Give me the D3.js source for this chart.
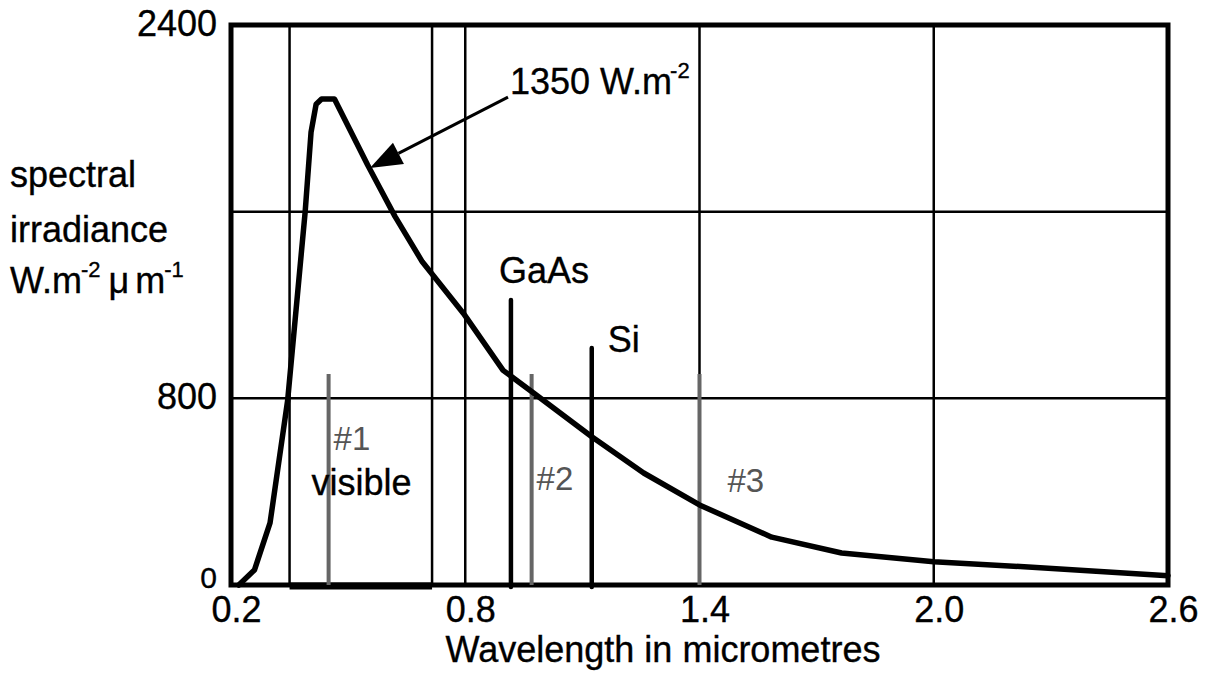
<!DOCTYPE html>
<html>
<head>
<meta charset="utf-8">
<script src="https://cdn.jsdelivr.net/npm/d3@7"></script>
<style>
  html, body { margin: 0; padding: 0; background: #fff; }
  svg { display: block; font-family: "Liberation Sans", Arial, sans-serif; }
  text { stroke: #000; stroke-width: 0.35px; }
</style>
</head>
<body>
<div id="chart"></div>
<script>
// data
const wavelength = [0.22, 0.26, 0.30, 0.345, 0.39, 0.405, 0.418, 0.432, 0.465, 0.55, 0.62, 0.69, 0.795, 0.897, 0.975, 1.125, 1.257, 1.40, 1.585, 1.764, 2.0, 2.242, 2.6];
const irradiance = [0, 64, 266, 790, 1600, 1940, 2060, 2083, 2083, 1800, 1580, 1385, 1165, 920, 823, 634, 480, 343, 205, 137, 100, 77, 40];

const xTicks = [0.2, 0.8, 1.4, 2.0, 2.6];
const yTicks = [0, 800, 2400];
const xGrid = [0.35, 0.715, 0.8, 1.4, 2.0];
const yGrid = [800, 1600];

// grey band markers and band-gap lines
const bandNames = ["#1", "#2", "#3"];
const bandPos = [0.45, 0.97, 1.4];
const bandTop = [904, 904, 904];
const gapNames = ["GaAs", "Si"];
const gapPos = [0.917, 1.124];
const gapTop = [1221, 1016];

// visible range marked on the base line
const visibleRange = [0.35, 0.715];

// arrow annotation: tail and tip in data units
const arrowTail = [0.9095, 2091];
const arrowTip = [0.556, 1787];

const svgWidth = 1210;
const svgHeight = 682;
const margin = { top: 25, right: 42, bottom: 97, left: 231 };
const width = svgWidth - margin.left - margin.right;
const height = svgHeight - margin.top - margin.bottom;

const svg = d3.select("#chart")
  .append("svg")
  .attr("width", svgWidth)
  .attr("height", svgHeight);

const g = svg.append("g")
  .attr("transform", `translate(${margin.left}, ${margin.top})`);

const x = d3.scaleLinear().domain([0.2, 2.6]).range([0, width]);
const y = d3.scaleLinear().domain([0, 2400]).range([height, 0]);

// grid
g.selectAll(".vgrid")
  .data(xGrid)
  .join("line")
  .attr("x1", d => x(d))
  .attr("x2", d => x(d))
  .attr("y1", 0)
  .attr("y2", height)
  .attr("stroke", "#000")
  .attr("stroke-width", 2.5);

g.selectAll(".hgrid")
  .data(yGrid)
  .join("line")
  .attr("x1", 0)
  .attr("x2", width)
  .attr("y1", d => y(d))
  .attr("y2", d => y(d))
  .attr("stroke", "#000")
  .attr("stroke-width", 2.5);

// frame
g.append("rect")
  .attr("width", width)
  .attr("height", height)
  .attr("fill", "none")
  .attr("stroke", "#000")
  .attr("stroke-width", 5);

g.append("line")
  .attr("x1", x(visibleRange[0]))
  .attr("x2", x(visibleRange[1]))
  .attr("y1", height + 1)
  .attr("y2", height + 1)
  .attr("stroke", "#000")
  .attr("stroke-width", 7);

// grey band lines
g.selectAll(".band")
  .data(bandPos)
  .join("line")
  .attr("x1", d => x(d))
  .attr("x2", d => x(d))
  .attr("y1", (d, i) => y(bandTop[i]))
  .attr("y2", height)
  .attr("stroke", "#666")
  .attr("stroke-width", 4);

// band gap lines
g.selectAll(".gap")
  .data(gapPos)
  .join("line")
  .attr("x1", d => x(d))
  .attr("x2", d => x(d))
  .attr("y1", (d, i) => y(gapTop[i]))
  .attr("y2", height + 2)
  .attr("stroke", "#000")
  .attr("stroke-width", 4.5)
  .attr("stroke-linecap", "round");

// spectrum
const line = d3.line()
  .x(d => x(d[0]))
  .y(d => y(d[1]));

g.append("path")
  .datum(d3.zip(wavelength, irradiance))
  .attr("fill", "none")
  .attr("stroke", "#000")
  .attr("stroke-width", 5.5)
  .attr("stroke-linejoin", "round")
  .attr("stroke-linecap", "round")
  .attr("d", line);

// axes (labels only)
const xAxis = g.append("g")
  .attr("transform", `translate(0, ${height})`)
  .call(d3.axisBottom(x).tickValues(xTicks).tickSize(0).tickPadding(11).tickFormat(d3.format(".1f")));
xAxis.select(".domain").remove();
xAxis.selectAll("text")
  .attr("dx", 5)
  .attr("dy", "0.71em")
  .style("font-size", "36px")
  .style("font-family", "Liberation Sans, Arial, sans-serif")
  .attr("fill", "#000");

const yAxis = g.append("g")
  .call(d3.axisLeft(y).tickValues(yTicks).tickSize(0).tickPadding(14).tickFormat(d3.format("d")));
yAxis.select(".domain").remove();
yAxis.selectAll("text")
  .style("font-size", d => d === 0 ? "30px" : "36px")
  .style("font-family", "Liberation Sans, Arial, sans-serif")
  .attr("dy", d => d === 2400 ? "0.3em" : d === 0 ? "0.08em" : "0.28em")
  .attr("fill", "#000");

// x axis title
svg.append("text")
  .attr("x", 663)
  .attr("y", 662)
  .attr("text-anchor", "middle")
  .style("font-size", "36px")
  .text("Wavelength in micrometres");

// y axis title
const yTitle = svg.append("g").style("font-size", "36px");
yTitle.append("text").attr("x", 10).attr("y", 187).text("spectral");
yTitle.append("text").attr("x", 10).attr("y", 242).text("irradiance");
const unit = yTitle.append("text").attr("x", 10).attr("y", 293);
unit.append("tspan").text("W.m");
unit.append("tspan").attr("dy", -16).attr("dx", -1).style("font-size", "22px").text("-2");
unit.append("tspan").attr("dy", 16).attr("dx", 8).text("\u03bc");
unit.append("tspan").attr("dx", 6).text("m");
unit.append("tspan").attr("dy", -16).attr("dx", -1).style("font-size", "22px").text("-1");

// band labels
const bandLabelDx = [5, 5, 28];
const bandLabelY = [450, 490, 492];
g.selectAll(".bandLabel")
  .data(bandNames)
  .join("text")
  .attr("x", (d, i) => x(bandPos[i]) + bandLabelDx[i])
  .attr("y", (d, i) => bandLabelY[i] - margin.top)
  .attr("fill", "#555")
  .style("stroke", "none")
  .style("font-size", "33px")
  .text(d => d);

g.append("text")
  .attr("x", x(bandPos[0]) - 17)
  .attr("y", 495 - margin.top)
  .style("font-size", "36px")
  .text("visible");

// gap labels
const gapLabelDx = [-12, 16];
const gapLabelDy = [-17, 4];
g.selectAll(".gapLabel")
  .data(gapNames)
  .join("text")
  .attr("x", (d, i) => x(gapPos[i]) + gapLabelDx[i])
  .attr("y", (d, i) => y(gapTop[i]) + gapLabelDy[i])
  .style("font-size", "36px")
  .text(d => d);

// arrow annotation
const tx = x(arrowTail[0]), ty = y(arrowTail[1]);
const px = x(arrowTip[0]), py = y(arrowTip[1]);
const ang = Math.atan2(py - ty, px - tx);
const headLen = 32, headHalf = 12;
const bx = px - headLen * Math.cos(ang), by = py - headLen * Math.sin(ang);
const nx = -Math.sin(ang), ny = Math.cos(ang);

g.append("line")
  .attr("x1", tx)
  .attr("y1", ty)
  .attr("x2", bx)
  .attr("y2", by)
  .attr("stroke", "#000")
  .attr("stroke-width", 3);

g.append("path")
  .attr("d", `M${px},${py}L${bx + nx * headHalf},${by + ny * headHalf}L${bx - nx * headHalf},${by - ny * headHalf}Z`)
  .attr("fill", "#000");

const note = g.append("text")
  .attr("x", tx + 2)
  .attr("y", ty - 3)
  .style("font-size", "36px");
note.append("tspan").text("1350 W.m");
note.append("tspan").attr("dx", -2).attr("dy", -16).style("font-size", "22px").text("-2");
</script>
</body>
</html>
